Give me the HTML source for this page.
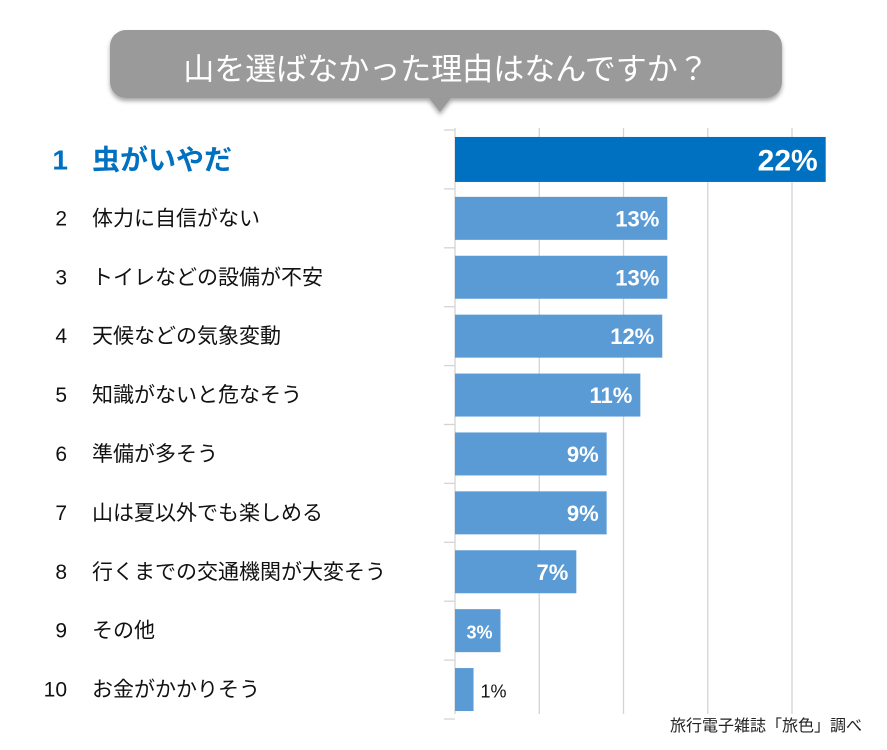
<!DOCTYPE html>
<html><head><meta charset="utf-8"><style>
body{margin:0;background:#fff;}
svg{display:block;font-family:"Liberation Sans","Noto Sans CJK JP",sans-serif;}
</style></head><body>
<svg width="887" height="750" viewBox="0 0 887 750">
<defs><filter id="sh" x="-5%" y="-20%" width="110%" height="150%"><feDropShadow dx="0" dy="3" stdDeviation="2" flood-color="#000" flood-opacity="0.35"/></filter></defs>
<g filter="url(#sh)">
<rect x="110" y="30" width="672" height="68" rx="16" fill="#9a9a9a"/>
<path d="M428 97 L440 112 L452 97 Z" fill="#9a9a9a"/>
</g>
<text x="446" y="80" text-anchor="middle" font-size="31" fill="#fff">山を選ばなかった理由はなんですか？</text>
<g id="grid"></g><g id="rows"></g>
<text x="862" y="731" text-anchor="end" font-size="16" fill="#222">旅行電子雑誌「旅色」調べ</text>
</svg>
<script>
const categories=["虫がいやだ","体力に自信がない","トイレなどの設備が不安","天候などの気象変動","知識がないと危なそう","準備が多そう","山は夏以外でも楽しめる","行くまでの交通機関が大変そう","その他","お金がかかりそう"];
const values=[22,12.6,12.6,12.3,11,9,9,7.2,2.7,1.1];
const valueLabels=["22%","13%","13%","12%","11%","9%","9%","7%","3%","1%"];
const gridTicks=[0,5,10,15,20];
const NS="http://www.w3.org/2000/svg";
const x0=455,pxPer=16.85,yTop=130,rowH=58.9;
const xs=v=>x0+v*pxPer;
function mk(t,a,p){const e=document.createElementNS(NS,t);for(const k in a)e.setAttribute(k,a[k]);p.appendChild(e);return e;}
const grid=document.getElementById('grid'),rows=document.getElementById('rows');
gridTicks.forEach(t=>{const l=mk('line',{x1:xs(t),x2:xs(t),y1:yTop-2,y2:yTop+rowH*categories.length-5,stroke:'#d4d4d4','stroke-width':1.3},grid);

});
for(let i=0;i<=categories.length;i++){const l=mk('line',{x1:x0-11,x2:x0,y1:yTop+i*rowH,y2:yTop+i*rowH,stroke:'#d4d4d4','stroke-width':1.3},grid);

}
categories.forEach((c,i)=>{
 const y=yTop+i*rowH, first=i===0;
 const bh=first?45:43, by=y+(rowH-bh)/2;
 const b=mk('rect',{x:x0,y:by,width:xs(values[i])-x0,height:bh,fill:first?'#0070c0':'#5b9bd5'},rows);
 
 
 const cy=y+rowH/2;
 const n=mk('text',{x:first?68:67,y:cy+(first?10:7),'text-anchor':'end','font-size':first?28:21,'font-weight':first?'bold':'normal',fill:first?'#0070c0':'#111'},rows);
 n.textContent=String(i+1);
 
 
 const t=mk('text',{x:92,y:cy+(first?10:7),'font-size':first?28:21,'font-weight':first?'bold':'normal',fill:first?'#0070c0':'#111'},rows);
 t.textContent=c;
 
 
 const w=xs(values[i])-x0, inside=w>30;
 const v=mk('text',{x:inside?xs(values[i])-8:xs(values[i])+7,y:cy+(first?11:8),'text-anchor':inside?'end':'start','font-size':first?30:inside?(w<70?18:22):18,'font-weight':inside?'bold':'normal',fill:inside?'#fff':'#111'},rows);
 v.textContent=valueLabels[i];
 
 
});
</script>
</body></html>
